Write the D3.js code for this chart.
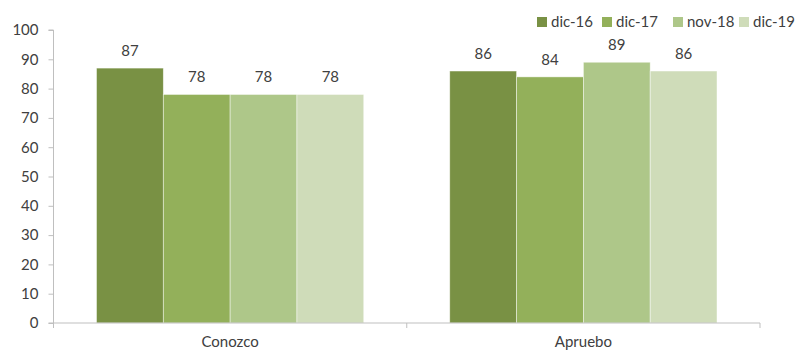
<!DOCTYPE html>
<html>
<head>
<meta charset="utf-8">
<script src="https://cdn.jsdelivr.net/npm/d3@7"></script>
<style>
  body { margin: 0; background: #fff; }
  text { font-family: Lato, "Open Sans", sans-serif; fill: #404040; }
</style>
</head>
<body>
<script>
// Chart data
var categories = ["Conozco", "Apruebo"];
var seriesNames = ["dic-16", "dic-17", "nov-18", "dic-19"];
var conozcoValues = [87, 78, 78, 78];
var apruebaValues = [86, 84, 89, 86];
var yTicks = [0, 10, 20, 30, 40, 50, 60, 70, 80, 90, 100];
var colors = ["#799144", "#93b05a", "#aec789", "#cfdcb9"];

var svgWidth = 795;
var svgHeight = 351;
var margin = { top: 30, right: 35, bottom: 28, left: 53.5 };
var chartWidth = svgWidth - margin.left - margin.right;
var chartHeight = svgHeight - margin.top - margin.bottom;

var rows = [conozcoValues, apruebaValues];

var svg = d3.select("body").append("svg")
  .attr("width", svgWidth)
  .attr("height", svgHeight);

var chartGroup = svg.append("g")
  .attr("transform", `translate(${margin.left}, ${margin.top})`);

var x0 = d3.scaleBand()
  .domain(categories)
  .range([0, chartWidth])
  .paddingInner(0)
  .paddingOuter(0);

var x1 = d3.scaleBand()
  .domain(seriesNames)
  .range([43, x0.bandwidth() - 43]);

var yScale = d3.scaleLinear()
  .domain([0, 100])
  .range([chartHeight, 0]);

// Bars
categories.forEach(function(cat, i) {
  var g = chartGroup.append("g")
    .attr("transform", `translate(${x0(cat)}, 0)`);
  g.selectAll("rect")
    .data(rows[i])
    .enter()
    .append("rect")
    .attr("x", (d, j) => x1(seriesNames[j]))
    .attr("y", d => yScale(d))
    .attr("width", x1.bandwidth())
    .attr("height", d => chartHeight - yScale(d))
    .attr("fill", (d, j) => colors[j])
    .attr("stroke", "#ffffff")
    .attr("stroke-opacity", 0.6)
    .attr("stroke-width", 0.75);
  g.selectAll(".val")
    .data(rows[i])
    .enter()
    .append("text")
    .attr("x", (d, j) => x1(seriesNames[j]) + x1.bandwidth() / 2)
    .attr("y", d => yScale(d) - 12)
    .attr("text-anchor", "middle")
    .style("font-size", "15px")
    .text(d => d);
});

// Y axis
var leftAxis = d3.axisLeft(yScale)
  .tickValues(yTicks)
  .tickSize(5)
  .tickPadding(10);
var yAxisG = chartGroup.append("g").call(leftAxis);
yAxisG.select(".domain").attr("stroke", "#bfbfbf").attr("d", `M-5,${chartHeight}H0V0H-5`);
yAxisG.selectAll(".tick line").attr("stroke", "#bfbfbf");
yAxisG.selectAll("text").style("font-size", "15px").attr("fill", "#404040")
  .style("font-family", "Lato, 'Open Sans', sans-serif");

// X axis
var xAxisG = chartGroup.append("g")
  .attr("transform", `translate(0, ${chartHeight})`);
xAxisG.append("path")
  .attr("d", `M0,0H${chartWidth}`)
  .attr("stroke", "#bfbfbf")
  .attr("fill", "none");
[0, x0.bandwidth(), chartWidth].forEach(function(px) {
  xAxisG.append("line")
    .attr("x1", px).attr("x2", px)
    .attr("y1", 0).attr("y2", 5)
    .attr("stroke", "#bfbfbf");
});
xAxisG.selectAll(".cat")
  .data(categories)
  .enter()
  .append("text")
  .attr("x", d => x0(d) + x0.bandwidth() / 2)
  .attr("y", 24)
  .attr("text-anchor", "middle")
  .style("font-size", "15px")
  .text(d => d);

// Legend
var legendX = [537, 602, 673, 739];
var legend = svg.append("g");
seriesNames.forEach(function(name, i) {
  legend.append("rect")
    .attr("x", legendX[i])
    .attr("y", 17)
    .attr("width", 10)
    .attr("height", 10)
    .attr("fill", colors[i]);
  legend.append("text")
    .attr("x", legendX[i] + 14)
    .attr("y", 27)
    .style("font-size", "15px")
    .text(name);
});
</script>
</body>
</html>
